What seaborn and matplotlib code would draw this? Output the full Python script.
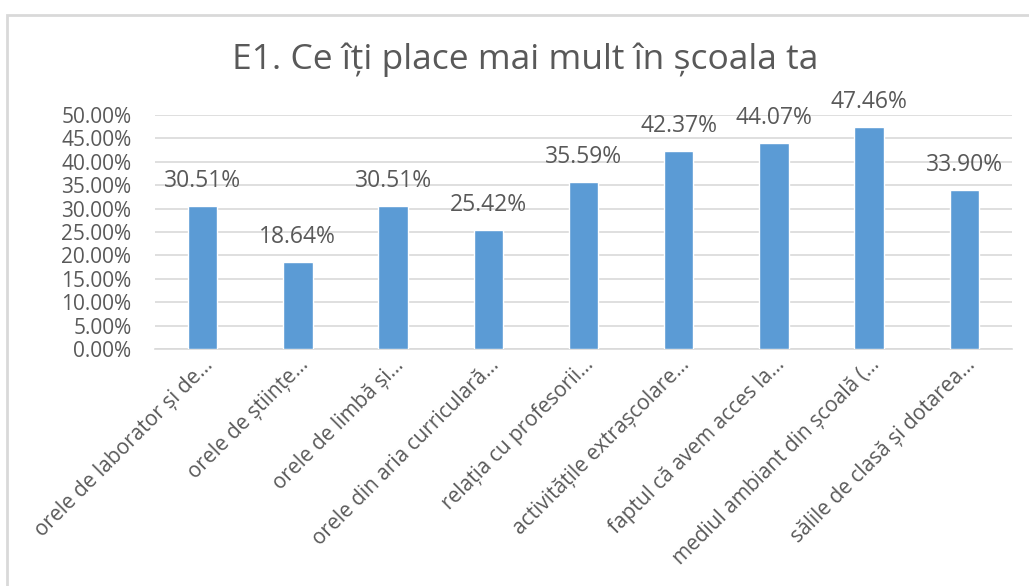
import numpy as np
import pandas as pd
import matplotlib
matplotlib.use("Agg")
import matplotlib.pyplot as plt
import seaborn as sns
from matplotlib.ticker import PercentFormatter, MultipleLocator
from matplotlib.patches import Rectangle

categories = [
    "orele de laborator și de...",
    "orele de științe...",
    "orele de limbă și...",
    "orele din aria curriculară...",
    "relația cu profesorii...",
    "activitățile extrașcolare...",
    "faptul că avem acces la...",
    "mediul ambiant din școală (...",
    "sălile de clasă și dotarea...",
]
values = [0.3051, 0.1864, 0.3051, 0.2542, 0.3559, 0.4237, 0.4407, 0.4746, 0.3390]
title = "E1. Ce îți place mai mult în școala ta"

sns.set_style("white")
plt.rcParams["font.family"] = ["Open Sans", "DejaVu Sans"]
gray = "#595959"

df = pd.DataFrame({"cat": categories, "val": values})

fig = plt.figure(figsize=(10.29, 5.86), dpi=100)
ax = fig.add_axes([155 / 1029, 1 - 349 / 586, (1012 - 155) / 1029, (349 - 115) / 586])

sns.barplot(data=df, x="cat", y="val", color="#5b9bd5", width=0.31, saturation=1, ax=ax, zorder=3)

ax.set_ylim(0, 0.5)
ax.yaxis.set_major_locator(MultipleLocator(0.05))
ax.yaxis.set_major_formatter(PercentFormatter(1.0, decimals=2))
ax.yaxis.grid(True, color="#d9d9d9", linewidth=1.2, zorder=0)
ax.set_axisbelow(True)
for s in ["top", "right", "left"]:
    ax.spines[s].set_visible(False)
ax.spines["bottom"].set_color("#d9d9d9")
ax.spines["bottom"].set_linewidth(1.2)
ax.set_xlabel("")
ax.set_ylabel("")
ax.tick_params(axis="y", length=0, pad=17, labelsize=15, labelcolor=gray)
ax.tick_params(axis="x", length=0, pad=4, labelsize=15, labelcolor=gray)
plt.setp(ax.get_xticklabels(), rotation=45, ha="right", va="top", rotation_mode="anchor")

for i, v in enumerate(values):
    ax.annotate(f"{v * 100:.2f}%", (i, v), xytext=(0, 18), textcoords="offset points",
                ha="center", va="center", fontsize=16.5, color=gray)

fig.text(525 / 1029, 1 - 60 / 586, title, ha="center", va="center", fontsize=25.5, color=gray)

fig.add_artist(Rectangle((7 / 1029, -0.1), 1.2, 1 - 15 / 586 + 0.1, transform=fig.transFigure,
                         fill=False, edgecolor="#d9d9d9", linewidth=2))

fig.savefig("out.png", dpi=100)
